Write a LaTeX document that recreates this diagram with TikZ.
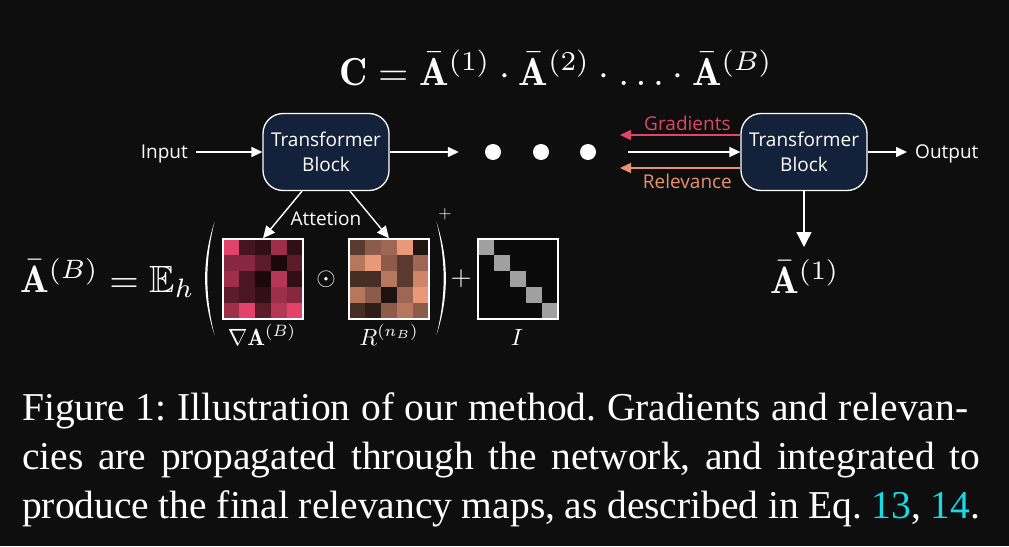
\documentclass[tikz,border=0pt]{standalone}
\usepackage{fix-cm}
\usepackage{amsmath}
\usepackage{amssymb}
\usepackage{fontspec}
\usepackage{tikz}
\usetikzlibrary{arrows.meta, positioning}
\newfontfamily\blockfont{Open Sans}
\newfontfamily\captionfont{Liberation Serif}
\definecolor{bgdark}{RGB}{14,14,14}
\definecolor{blocknavy}{RGB}{19,33,58}
\definecolor{gradred}{RGB}{224,69,106}
\definecolor{relorange}{RGB}{232,146,112}
\definecolor{attnpink}{RGB}{226,67,107}
\definecolor{relbrown}{RGB}{234,152,122}
\definecolor{eqcyan}{RGB}{20,220,230}
\definecolor{diaggray}{RGB}{160,160,160}
\definecolor{cellblack}{RGB}{10,10,10}
\newcommand{\bigmath}[1]{\scalebox{3.8}{$#1$}}
\newcommand{\labmath}[1]{\scalebox{2.35}{$#1$}}

\tikzset{
  block/.style={draw=white, line width=1.3pt, fill=blocknavy, rounded corners=20pt,
    minimum width=126pt, minimum height=77pt, align=center, text=white,
    font=\blockfont\fontsize{19}{25}\selectfont},
  lbl/.style={text=white, font=\blockfont\fontsize{19}{23}\selectfont,
    text height=13.5pt, text depth=0pt, inner xsep=8pt, inner ysep=5pt},
  arr/.style={white, line width=1.4pt, -{Triangle[length=11pt, width=10pt]}},
  mathtxt/.style={text=white, inner sep=0pt},
  matbox/.style={draw=white, line width=1.5pt, minimum size=80pt, inner sep=0pt},
  dotnode/.style={circle, fill=white, minimum size=16pt, inner sep=0pt},
  capline/.style={text=white, inner sep=0pt, anchor=base west,
    font=\captionfont\fontsize{39.5}{45}\selectfont\frenchspacing},
}

\begin{document}
\begin{tikzpicture}[x=1pt, y=-1pt]
\fill[bgdark] (0,0) rectangle (1009,546);
\useasboundingbox (0,0) rectangle (1009,546);

\node[mathtxt, anchor=base] (chain) at (556,85)
  {\scalebox{3.9}{$\mathbf{C}=\bar{\mathbf{A}}^{(1)}\cdot\bar{\mathbf{A}}^{(2)}\cdot\ldots\cdot\bar{\mathbf{A}}^{(B)}$}};

\node[block] (tb1) at (326,152) {Transformer\\Block};
\node[block] (tb2) at (804,152) {Transformer\\Block};
\node[lbl, anchor=east] (in) at (196,152) {Input};
\node[lbl, anchor=west] (out) at (907,152) {Output};
\foreach \x [count=\k] in {493,541,588}
  \node[dotnode] (d\k) at (\x,152) {};

\draw[arr] (in) -- (tb1);
\draw[arr, shorten >=26pt] (tb1) -- (d1);
\draw[arr, shorten <=32pt] (d3) -- (tb2);
\draw[arr] (tb2) -- (out);

\coordinate (gtip) at (620,135);
\coordinate (rtip) at (620,168);
\draw[arr, gradred] (tb2.west |- gtip) -- (gtip)
  node[lbl, pos=0.44, above, text=gradred, inner ysep=4pt] (gradlbl) {Gradients};
\draw[arr, relorange] (tb2.west |- rtip) -- (rtip)
  node[lbl, pos=0.44, below, text=relorange, inner ysep=6pt] (rellbl) {Relevance};

\coordinate (a1tip) at (804,247);
\draw[arr, -{Triangle[length=15pt, width=15pt]}] (tb2) -- (a1tip);
\node[mathtxt, anchor=base] (abar1) at (805,293) {\bigmath{\bar{\mathbf{A}}^{(1)}}};

\node[mathtxt, anchor=base west] (abarb) at (20,292) {\bigmath{\bar{\mathbf{A}}^{(B)}=\mathbb{E}_h}};

\foreach \row [count=\i from 0] in {{100,30,22,70,22},{60,60,40,12,40},{70,33,12,80,22},{40,33,22,70,60},{70,100,40,80,100}}
  \foreach \v [count=\j from 0] in \row
    \fill[attnpink!\v!black] (223+16*\j,239+16*\i) rectangle ++(16,16);
\foreach \row [count=\i from 0] in {{38,60,68,100,14},{78,100,60,38,68},{30,30,78,38,88},{78,60,12,68,100},{30,20,60,78,60}}
  \foreach \v [count=\j from 0] in \row
    \fill[relbrown!\v!black] (349+16*\j,239+16*\i) rectangle ++(16,16);
\fill[cellblack] (478,239) rectangle (558,319);
\foreach \i in {0,...,4}
  \fill[diaggray] (478+16*\i,239+16*\i) rectangle ++(16,16);

\node[matbox] (m1) at (263,279) {};
\node[matbox] (m2) at (389,279) {};
\node[matbox] (m3) at (518,279) {};

\draw[arr, -{Triangle[length=12pt, width=11pt]}] ([xshift=-24pt]tb1.south) -- (m1.north);
\draw[arr, -{Triangle[length=12pt, width=11pt]}] ([xshift=24pt]tb1.south) -- (m2.north);
\node[lbl] (attn) at (326,218.5) {Attetion};

\fill[white] (214.5,222) .. controls (202,260) and (202,297) .. (214.5,335)
  .. controls (205,297) and (205,260) .. cycle;
\fill[white] (436.5,222) .. controls (449,260) and (449,297) .. (436.5,335)
  .. controls (446,297) and (446,260) .. cycle;

\node[mathtxt] (hprod) at (326,279) {\scalebox{2.5}{$\odot$}};
\node[mathtxt] (supplus) at (445,214) {\scalebox{1.7}{$+$}};
\node[mathtxt] (plus) at (461,279) {\scalebox{2.7}{$+$}};

\node[mathtxt, anchor=base] (m1lab) at (262,345) {\labmath{\nabla\mathbf{A}^{(B)}}};
\node[mathtxt, anchor=base] (m2lab) at (389,345) {\labmath{R^{(n_B)}}};
\node[mathtxt, anchor=base] (m3lab) at (517,345) {\labmath{I}};

\node[capline] (cap1) at (22,420) {\makebox[946pt][s]{Figure 1: Illustration of our method. Gradients and relevan-}};
\node[capline] (cap2) at (22,469) {\makebox[958pt][s]{cies are propagated through the network, and integrated to}};
\node[capline] (cap3) at (22,518) {\makebox[958pt][s]{produce the final relevancy maps, as described in Eq. \textcolor{eqcyan}{13}, \textcolor{eqcyan}{14}.}};
\end{tikzpicture}
\end{document}
